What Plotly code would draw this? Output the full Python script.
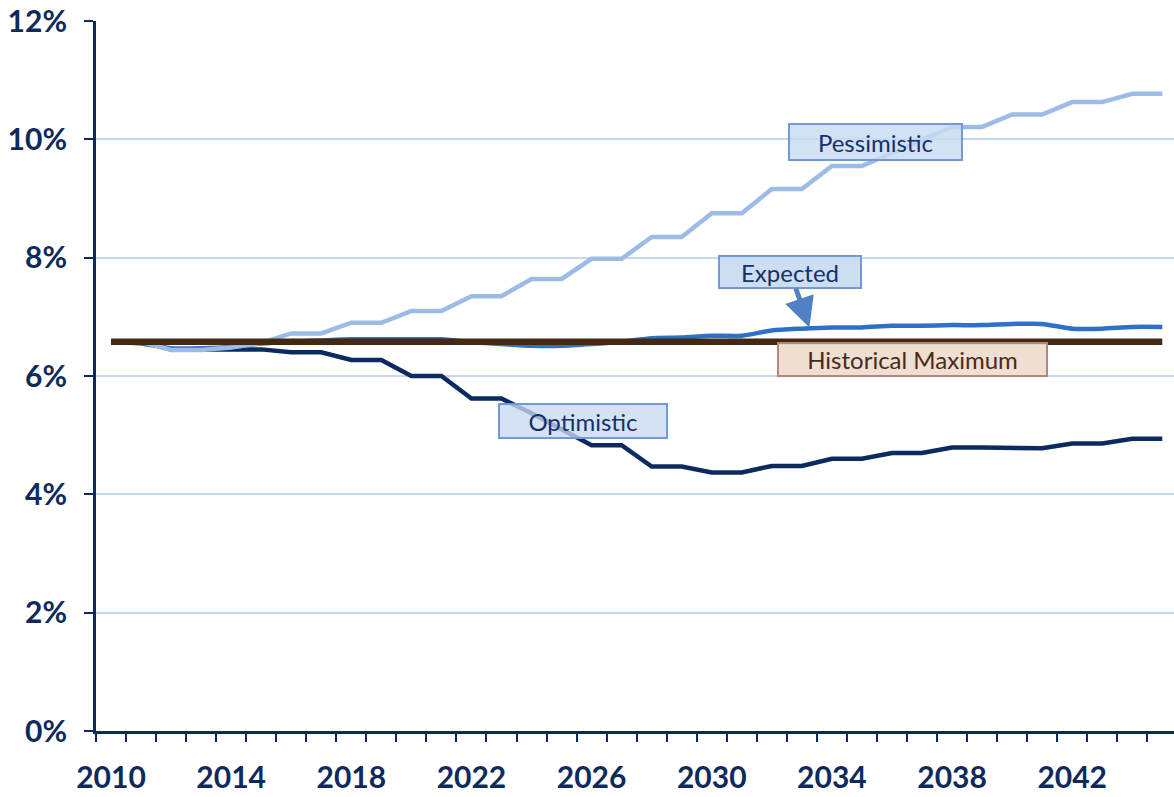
import plotly.graph_objects as go

years = list(range(2010, 2046))

pessimistic = [6.58, 6.58, 6.44, 6.44, 6.48, 6.56, 6.72, 6.72, 6.90, 6.90,
               7.10, 7.10, 7.35, 7.35, 7.64, 7.64, 7.98, 7.98, 8.35, 8.35,
               8.75, 8.75, 9.16, 9.16, 9.55, 9.55, 9.77, 9.99, 10.21, 10.21,
               10.42, 10.42, 10.63, 10.63, 10.77, 10.77]

expected = [6.58, 6.55, 6.47, 6.47, 6.49, 6.55, 6.58, 6.60, 6.62, 6.62,
            6.62, 6.62, 6.57, 6.54, 6.51, 6.51, 6.54, 6.58, 6.64, 6.65,
            6.68, 6.68, 6.77, 6.80, 6.82, 6.82, 6.85, 6.85, 6.86, 6.86,
            6.88, 6.88, 6.80, 6.80, 6.83, 6.83]

optimistic = [6.58, 6.58, 6.45, 6.45, 6.45, 6.45, 6.40, 6.40, 6.27, 6.27,
              6.00, 6.00, 5.62, 5.62, 5.37, 5.10, 4.83, 4.83, 4.47, 4.47,
              4.37, 4.37, 4.48, 4.48, 4.60, 4.60, 4.70, 4.70, 4.79, 4.79,
              4.78, 4.78, 4.86, 4.86, 4.94, 4.94]

historical_max = [6.58] * len(years)

x_tick_years = [2010, 2014, 2018, 2022, 2026, 2030, 2034, 2038, 2042]
x_tick_labels = [str(y) for y in x_tick_years]
y_ticks = [0, 2, 4, 6, 8, 10, 12]
y_tick_labels = [f"{v}%" for v in y_ticks]

NAVY = "#0e2a5c"
GRID = "#c5d6ee"

fig = go.Figure()
fig.add_trace(go.Scatter(x=years, y=optimistic, mode="lines", name="Optimistic",
                         line=dict(color="#0b2a60", width=4.5)))
fig.add_trace(go.Scatter(x=years, y=expected, mode="lines", name="Expected",
                         line=dict(color="#2e70c8", width=4.5, shape="spline", smoothing=0.6)))
fig.add_trace(go.Scatter(x=years, y=pessimistic, mode="lines", name="Pessimistic",
                         line=dict(color="#9dbbe7", width=4.5)))
fig.add_trace(go.Scatter(x=years, y=historical_max, mode="lines", name="Historical Maximum",
                         line=dict(color="#432814", width=6.5)))

box_font = dict(family="Lato", size=24, color="#13316a")

fig.add_annotation(x=2035.45, y=9.95, text="Pessimistic", showarrow=False,
                   font=box_font, bgcolor="rgba(200,218,241,0.82)",
                   bordercolor="#7099d6", borderwidth=2, borderpad=0,
                   width=171, height=34)
fig.add_annotation(x=2033.25, y=6.82, ax=-19, ay=-55, axref="pixel", ayref="pixel",
                   text="Expected", showarrow=True,
                   arrowhead=2, arrowsize=1.2, arrowwidth=5, arrowcolor="#4f81c4",
                   font=box_font, bgcolor="rgba(200,218,241,0.9)",
                   bordercolor="#7099d6", borderwidth=2, borderpad=0,
                   width=140, height=30)
fig.add_annotation(x=2036.68, y=6.28, text="Historical Maximum", showarrow=False,
                   font=dict(family="Lato", size=24, color="#4a2a18"),
                   bgcolor="rgba(238,219,206,0.92)",
                   bordercolor="#b3877a", borderwidth=2, borderpad=0,
                   width=267, height=31)
fig.add_annotation(x=2025.71, y=5.24, text="Optimistic", showarrow=False,
                   font=box_font, bgcolor="rgba(200,218,241,0.78)",
                   bordercolor="#7099d6", borderwidth=2, borderpad=0,
                   width=166, height=32)

fig.update_layout(
    width=1174, height=797,
    margin=dict(l=96, r=0, t=21, b=66),
    plot_bgcolor="white", paper_bgcolor="white",
    showlegend=False,
    xaxis=dict(
        range=[2009.5, 2045.39], automargin=False,
        tickmode="array", tickvals=x_tick_years, ticktext=x_tick_labels,
        ticks="", showgrid=False, zeroline=False,
        showline=True, linecolor=NAVY, linewidth=3,
        tickfont=dict(family="Lato", size=30, color=NAVY, weight="bold"),
        ticklabelstandoff=18,
        minor=dict(ticks="outside", tick0=2009.5, dtick=1, ticklen=8,
                   tickcolor=NAVY, tickwidth=2, showgrid=False),
    ),
    yaxis=dict(
        range=[0, 12], automargin=False,
        tickmode="array", tickvals=y_ticks, ticktext=y_tick_labels,
        ticks="outside", ticklen=9, tickcolor=NAVY, tickwidth=2,
        showgrid=True, gridcolor=GRID, gridwidth=2, zeroline=False,
        showline=True, linecolor=NAVY, linewidth=3,
        tickfont=dict(family="Lato", size=30, color=NAVY, weight="bold"),
        ticklabelstandoff=11,
    ),
)

fig.write_html("out.html", config={"displayModeBar": False},
               post_script="document.body.style.margin='0';document.body.style.overflow='hidden';")
